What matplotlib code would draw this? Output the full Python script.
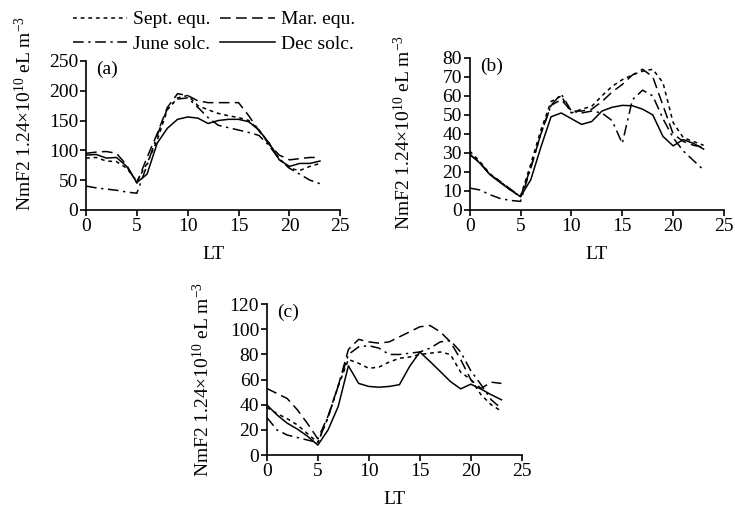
import matplotlib
matplotlib.use("Agg")
import matplotlib.pyplot as plt

plt.rcParams['font.family'] = ['Liberation Serif', 'DejaVu Serif']
plt.rcParams['mathtext.fontset'] = 'custom'
plt.rcParams['mathtext.rm'] = 'Liberation Serif'
plt.rcParams['mathtext.it'] = 'Liberation Serif:italic'

# local time (hours)
hours = list(range(24))

# panel (a)
a_sept = [87, 88, 82, 81, 70, 48, 78, 117, 168, 188, 192, 175, 168, 162, 158, 155, 150, 134, 112, 86, 70, 66, 73, 78]
a_mar = [95, 97, 98, 95, 75, 45, 88, 128, 172, 195, 192, 183, 180, 180, 180, 180, 158, 133, 110, 92, 84, 86, 88, 88]
a_june = [40, 37, 35, 33, 30, 28, 75, 125, 170, 186, 188, 172, 155, 142, 138, 134, 130, 125, 108, 85, 70, 60, 50, 44]
a_dec = [92, 93, 87, 88, 73, 46, 60, 112, 137, 152, 156, 154, 145, 150, 152, 152, 148, 134, 112, 84, 73, 78, 78, 82]

# panel (b)
b_sept = [31, 25.5, 19, 15, 10.5, 7, 24, 42, 57, 60, 51, 53, 54.5, 60, 65, 68.5, 71, 73, 74, 67, 46, 38, 36, 34]
b_mar = [29, 25, 18.5, 15, 11, 7, 22, 40, 55, 58, 52, 52, 53, 57, 62, 66, 71, 74, 70, 55, 40, 36, 34, 33]
b_june = [11.5, 10.5, 8, 6, 5, 4.5, 22, 40, 55, 61, 52, 51, 52, 51, 47, 35, 58, 63, 60, 48, 38, 31, 26, 21]
b_dec = [29.5, 24.6, 18.5, 14.4, 10.5, 7, 15.8, 33, 49, 51, 48, 45, 46.5, 52, 54, 55, 54.8, 53, 50, 38.7, 33.7, 37, 35, 32]

# panel (c)
c_sept = [38, 33, 29, 24, 17, 10, 30, 55, 76, 73, 69, 70, 74, 77, 78, 80, 81, 82, 80, 66, 60, 48, 40, 35]
c_mar = [53, 49, 45, 36, 25, 13, 31, 55, 84, 92, 90, 89, 90, 94, 98, 102, 103, 98, 90, 76, 60, 53, 58, 57]
c_june = [30, 20, 16, 14, 12, 10, 30, 55, 80, 86, 87, 85, 80, 80, 81, 82, 85, 90, 91, 82, 67, 56, 44, 37]
c_dec = [40, 32, 25.4, 20.7, 15, 8, 20, 38.7, 71, 57, 54.6, 54, 54.6, 56, 70.5, 82, 74.4, 66.5, 58.5, 52.7, 56.4, 52.5, 48, 44]

styles = {
    'Sept. equ.': dict(ls=(0, (2.5, 2.5))),
    'Mar. equ.': dict(ls=(0, (7, 3.5))),
    'June solc.': dict(ls=(0, (7, 3, 1.5, 3))),
    'Dec solc.': dict(ls='-'),
}

ylabel = r'NmF2 1.24$\times$10$^{10}$ eL m$^{-3}$'
fs = 14

fig = plt.figure(figsize=(7.35, 5.12), dpi=100)
ax_a = fig.add_axes([0.117, 0.590, 0.346, 0.291])
ax_b = fig.add_axes([0.639, 0.590, 0.346, 0.297])
ax_c = fig.add_axes([0.363, 0.111, 0.347, 0.295])

# axes, tag, series, ymax, ystep, ylabel position
panels = [
    (ax_a, '(a)', [a_sept, a_mar, a_june, a_dec], 250, 50, (-0.2, 0.65)),
    (ax_b, '(b)', [b_sept, b_mar, b_june, b_dec], 80, 10, (-0.22, 0.51)),
    (ax_c, '(c)', [c_sept, c_mar, c_june, c_dec], 120, 20, (-0.21, 0.50)),
]

for ax, tag, series, ymax, ystep, lpos in panels:
    for name, vals in zip(styles, series):
        ax.plot(hours, vals, color='black', lw=1.1, label=name, **styles[name])
    ax.set_xlim(0, 25)
    ax.set_ylim(0, ymax)
    ax.set_xticks(range(0, 26, 5))
    ax.set_yticks(range(0, ymax + 1, ystep))
    for s in ['top', 'right']:
        ax.spines[s].set_visible(False)
    for s in ['left', 'bottom']:
        ax.spines[s].set_linewidth(1.2)
    ax.tick_params(direction='out', length=4, width=1.2, labelsize=fs, pad=1.5)
    ax.set_xlabel('LT', fontsize=fs, labelpad=8)
    ax.set_ylabel(ylabel, fontsize=fs)
    ax.yaxis.set_label_coords(*lpos)
    ax.text(0.04, 1.0, tag, transform=ax.transAxes, fontsize=fs, va='top', ha='left')

handles, labels = ax_a.get_legend_handles_labels()
order = [0, 2, 1, 3]
fig.legend([handles[i] for i in order], [labels[i] for i in order],
           loc='upper center', bbox_to_anchor=(0.291, 1.013), ncol=2, frameon=False,
           fontsize=fs, handlelength=2.8, handletextpad=0.3, columnspacing=0.5,
           labelspacing=0.35)

fig.savefig('out.png', dpi=100)
